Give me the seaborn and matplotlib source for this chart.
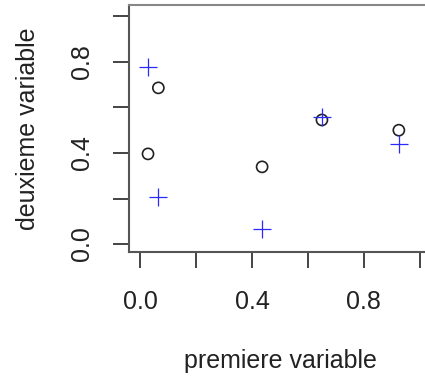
import matplotlib
matplotlib.use("Agg")
import matplotlib.pyplot as plt
import pandas as pd
import seaborn as sns

sns.set_theme(style="white")
plt.rcParams["font.family"] = ["Liberation Sans", "DejaVu Sans"]

# valeurs
x_vals = [0.028, 0.065, 0.436, 0.65, 0.925]
y_cercles = [0.396, 0.686, 0.339, 0.545, 0.50]
y_croix = [0.778, 0.207, 0.066, 0.558, 0.44]
x_ticks = [0.0, 0.2, 0.4, 0.6, 0.8, 1.0]
x_labels = ["0.0", "", "0.4", "", "0.8", ""]
y_ticks = [0.0, 0.2, 0.4, 0.6, 0.8, 1.0]
y_labels = ["0.0", "", "0.4", "", "0.8", ""]

df = pd.DataFrame({"x": x_vals, "cercle": y_cercles, "croix": y_croix})

fig = plt.figure(figsize=(4.25, 3.77), dpi=100)
ax = fig.add_axes([129 / 425, 1 - 252 / 377, 302 / 425, 247 / 377])

sns.scatterplot(data=df, x="x", y="cercle", ax=ax, marker="o", s=64,
                facecolor="none", edgecolor="#222222", linewidth=1.2)
sns.scatterplot(data=df, x="x", y="croix", ax=ax, marker="+", s=150,
                color="#2a2aff", linewidth=0.9)

ax.set_xlim(-0.04, 1.04)
ax.set_ylim(-0.035, 1.05)
ax.set_xticks(x_ticks)
ax.set_xticklabels(x_labels)
ax.set_yticks(y_ticks)
ax.set_yticklabels(y_labels, rotation=90, va="center")
ax.tick_params(axis="both", direction="out", length=11.5, width=1.4,
               color="#444444", labelsize=18, labelcolor="#222222")
ax.tick_params(axis="x", pad=16, bottom=True)
ax.tick_params(axis="y", pad=14, left=True)
for sp in ax.spines.values():
    sp.set_color("#555555")
    sp.set_linewidth(1.5)
ax.spines["top"].set_color("#888888")
ax.set_xlabel("")
ax.set_ylabel("")

fig.text(280 / 425, 1 - 361 / 377, "premiere variable", ha="center",
         va="center", fontsize=18, color="#222222")
fig.text(28 / 425, 1 - 129 / 377, "deuxieme variable", ha="center",
         va="center", rotation=90, fontsize=18, color="#222222")

fig.savefig("out.png", dpi=100)
